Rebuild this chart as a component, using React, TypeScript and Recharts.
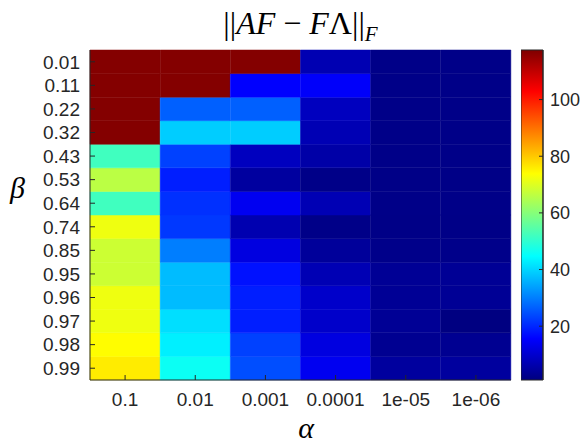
import { BarChart, Bar, XAxis, YAxis, Cell } from "recharts"

// columns (alpha) and rows (beta)
const alphas = ["0.1", "0.01", "0.001", "0.0001", "1e-05", "1e-06"]
const betas = ["0.01", "0.11", "0.22", "0.32", "0.43", "0.53", "0.64", "0.74", "0.85", "0.95", "0.96", "0.97", "0.98", "0.99"]

// ||AF - FΛ||_F for each alpha, one value per beta (top to bottom)
const errAlpha1e1 = [117, 117, 117, 117, 52, 66, 52, 72, 68, 68, 72, 72, 74, 76]
const errAlpha1e2 = [117, 117, 26.5, 39, 23, 19, 21, 22, 30, 37, 37, 41, 43, 46]
const errAlpha1e3 = [117, 15.5, 26.5, 39, 8.3, 4.6, 14, 6.5, 12, 17.5, 19, 19, 23, 24.5]
const errAlpha1e4 = [6.8, 15, 8.3, 7, 5.5, 2, 7, 2, 4, 7, 9.5, 9.5, 12, 14]
const errAlpha1e5 = [2, 2, 2, 2, 2, 1.8, 2, 1.8, 2.2, 3.5, 3.5, 3.5, 3, 4.5]
const errAlpha1e6 = [2, 2, 2, 2, 2, 1.8, 2, 1.8, 2.2, 3.5, 3.5, 1.2, 3, 4.5]
const errByAlpha = [errAlpha1e1, errAlpha1e2, errAlpha1e3, errAlpha1e4, errAlpha1e5, errAlpha1e6]

const colorTicks = [20, 40, 60, 80, 100]
const CMIN = 1
const CMAX = 117.5

const AX = "#262626"
const tickFont = { fontSize: 19, fill: AX, fontFamily: "Liberation Sans, Arial, sans-serif" }

function jet(v: number) {
  const t = Math.min(1, Math.max(0, (v - CMIN) / (CMAX - CMIN)))
  const c = (x: number) => Math.round(255 * Math.min(1, Math.max(0, 1.5 - Math.abs(4 * t - x))))
  return `rgb(${c(3)},${c(2)},${c(1)})`
}

// every cell is one unit tall; stacked from the bottom row (0.99) upward
const rowOrder = betas.map((_, i) => betas.length - 1 - i)
const tableData = alphas.map((a) => {
  const row: Record<string, string | number> = { alpha: a }
  betas.forEach((_, ri) => (row["r" + ri] = 1))
  return row
})
const rowTicks = betas.map((_, i) => i + 0.5)
const barData = [{ k: "cb", range: [CMIN, CMAX] }]

export default function App() {
  return (
    <div style={{ position: "absolute", left: 0, top: 0, width: 581, height: 443, background: "#fff", overflow: "hidden" }}>
      <BarChart width={520} height={443} data={tableData} margin={{ top: 50, right: 9, bottom: 0, left: 0 }} barCategoryGap={0} barGap={0}>
        {rowOrder.map((ri) => (
          <Bar key={ri} dataKey={"r" + ri} stackId="h" isAnimationActive={false}>
            {alphas.map((a, ci) => {
              const col = jet(errByAlpha[ci][ri])
              return <Cell key={a} fill={col} stroke={col} strokeWidth={0.5} />
            })}
          </Bar>
        ))}
        <XAxis dataKey="alpha" height={63} stroke={AX} tick={tickFont} tickSize={-5} tickMargin={18} />
        <XAxis xAxisId="top" orientation="top" dataKey="alpha" height={0} stroke={AX} tickFormatter={() => ""} tickSize={-5} />
        <YAxis
          type="number"
          domain={[0, 14]}
          ticks={rowTicks}
          interval={0}
          width={90}
          stroke={AX}
          tick={tickFont}
          tickSize={-5}
          tickMargin={15}
          tickFormatter={(v: number) => betas[betas.length - 1 - Math.floor(v)]}
        />
        <YAxis yAxisId="right" orientation="right" type="number" domain={[0, 14]} ticks={rowTicks} interval={0} width={0} stroke={AX} tickFormatter={() => ""} tickSize={-5} />
      </BarChart>

      <div style={{ position: "absolute", left: 521, top: 0 }}>
        <BarChart width={60} height={443} data={barData} margin={{ top: 50, right: 0, bottom: 63, left: 0 }} barCategoryGap={0}>
          <defs>
            <linearGradient id="jetGrad" x1="0" y1="1" x2="0" y2="0">
              <stop offset="0" stopColor="#00007f" />
              <stop offset="0.125" stopColor="#0000ff" />
              <stop offset="0.375" stopColor="#00ffff" />
              <stop offset="0.625" stopColor="#ffff00" />
              <stop offset="0.875" stopColor="#ff0000" />
              <stop offset="1" stopColor="#7f0000" />
            </linearGradient>
          </defs>
          <XAxis dataKey="k" hide />
          <Bar dataKey="range" fill="url(#jetGrad)" stroke={AX} strokeWidth={1} isAnimationActive={false} />
          <YAxis
            orientation="right"
            type="number"
            domain={[CMIN, CMAX]}
            ticks={colorTicks}
            interval={0}
            width={38}
            stroke={AX}
            tick={{ ...tickFont, fontSize: 18 }}
            tickSize={-4}
            tickMargin={11}
          />
        </BarChart>
      </div>

      <div style={{ position: "absolute", left: 0, width: 601, top: 5, lineHeight: "36px", textAlign: "center", fontFamily: "Liberation Serif, serif", fontSize: 32, color: "#000", whiteSpace: "nowrap" }}>
        ||<i>AF</i>
        <span style={{ margin: "0 8px" }}>−</span>
        <i>F</i>Λ||<sub style={{ fontSize: 21 }}><i>F</i></sub>
      </div>
      <div style={{ position: "absolute", left: 10, top: 172, lineHeight: "32px", fontFamily: "Liberation Serif, serif", fontSize: 30, fontStyle: "italic", color: "#000" }}>β</div>
      <div style={{ position: "absolute", left: 0, width: 612, top: 413, lineHeight: "30px", textAlign: "center", fontFamily: "Liberation Serif, serif", fontSize: 30, fontStyle: "italic", color: "#000" }}>α</div>
    </div>
  )
}
